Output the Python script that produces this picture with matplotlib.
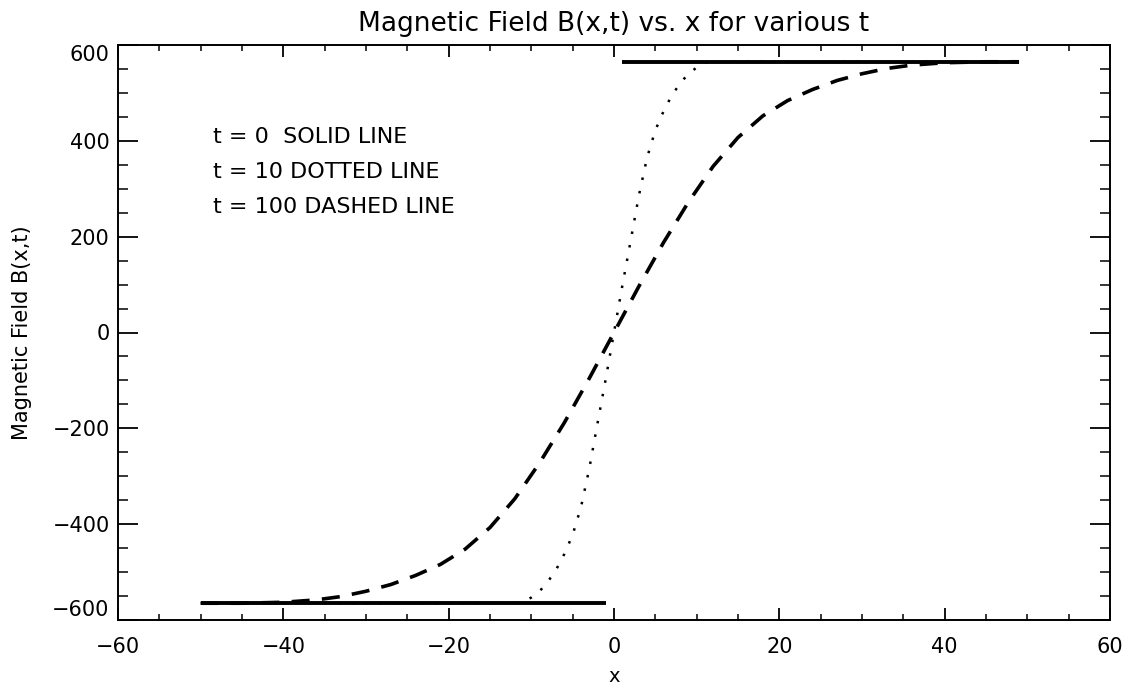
import matplotlib
matplotlib.use("Agg")
import matplotlib.pyplot as plt
import numpy as np

# ---- data ----
title = "Magnetic Field B(x,t) vs. x for various t"
xlabel = "x"
ylabel = "Magnetic Field B(x,t)"
legend_lines = ["t = 0  SOLID LINE", "t = 10 DOTTED LINE", "t = 100 DASHED LINE"]

# t = 0 (solid): two flat segments
solid_left_x = [-50, -1]
solid_left_b = [-565, -565]
solid_right_x = [1, 49]
solid_right_b = [565, 565]

# t = 10 (dotted)
dotted_x = [-50, -12, -11, -10, -9, -8, -7, -6, -5, -4, -3, -2, -1, 0,
            1, 2, 3, 4, 5, 6, 7, 8, 9, 10, 11, 12, 49]
dotted_b = [-565, -565, -563, -553, -540, -520, -495, -462, -422, -365, -285, -190, -97, 0,
            97, 190, 285, 365, 422, 462, 495, 520, 540, 553, 563, 565, 565]

# t = 100 (dashed)
dashed_x = [-50, -45, -40, -36, -33, -30, -27, -24, -21, -18, -15, -12, -9, -6, -3, 0,
            3, 6, 9, 12, 15, 18, 21, 24, 27, 30, 33, 36, 40, 45, 49]
dashed_b = [-565, -565, -563, -558, -551, -540, -526, -507, -484, -452, -407, -347, -272, -188, -96, 0,
            96, 188, 272, 347, 407, 452, 484, 507, 526, 540, 551, 558, 563, 565, 565]

xticks = [-60, -40, -20, 0, 20, 40, 60]
yticks = [-600, -400, -200, 0, 200, 400, 600]

# ---- figure ----
W, H = 1130, 688
fig = plt.figure(figsize=(W / 100, H / 100), dpi=100)
L, R, T, B = 118, 1110, 45, 620
ax = fig.add_axes([L / W, 1 - B / H, (R - L) / W, (B - T) / H])

ax.plot(dotted_x, dotted_b, color="black", lw=1.8, linestyle=(0, (1, 4.5)))
ax.plot(dashed_x, dashed_b, color="black", lw=2.6, linestyle=(0, (5.0, 3.4)),
        dash_capstyle="butt")
ax.plot(solid_left_x, solid_left_b, color="black", lw=2.8, solid_capstyle="butt")
ax.plot(solid_right_x, solid_right_b, color="black", lw=2.8, solid_capstyle="butt")

ax.set_xlim(-60, 60)
ax.set_ylim(-600, 600)
ax.set_xticks(xticks)
ax.set_yticks(yticks)
ax.set_xticks(np.arange(-60, 61, 5), minor=True)
ax.set_yticks(np.arange(-600, 601, 50), minor=True)

for s in ax.spines.values():
    s.set_linewidth(1.4)

ax.tick_params(axis="x", which="major", direction="in", length=8.3, width=1.3,
               top=True, bottom=True, labelsize=15, pad=12)
ax.tick_params(axis="x", which="minor", direction="in", length=4.0, width=1.1,
               top=True, bottom=True)
ax.tick_params(axis="y", which="major", direction="in", length=14.4, width=1.3,
               left=True, right=True, labelsize=15, pad=6)
ax.tick_params(axis="y", which="minor", direction="in", length=7.2, width=1.1,
               left=True, right=True)

ax.set_xticklabels([str(v).replace("-", "\u2212") for v in xticks])
ylabs = ax.set_yticklabels([str(v).replace("-", "\u2212") for v in yticks])
ylabs[-1].set_va("top")
ylabs[0].set_va("bottom")

ax.set_title(title, fontsize=19, pad=10)
ax.set_xlabel(xlabel, fontsize=14)
ax.set_ylabel(ylabel, fontsize=15)
ax.xaxis.set_label_coords(0.5, (B - 676) / (B - T))
ax.xaxis.label.set_va("center")
ax.yaxis.set_label_coords((22 - L) / (R - L), 0.5)
ax.yaxis.label.set_va("center")

leg_y = [408, 335, 261]
for txt, yv in zip(legend_lines, leg_y):
    ax.text(-48.5, yv, txt, fontsize=16, va="center", ha="left")

fig.savefig("out.png", dpi=100)
